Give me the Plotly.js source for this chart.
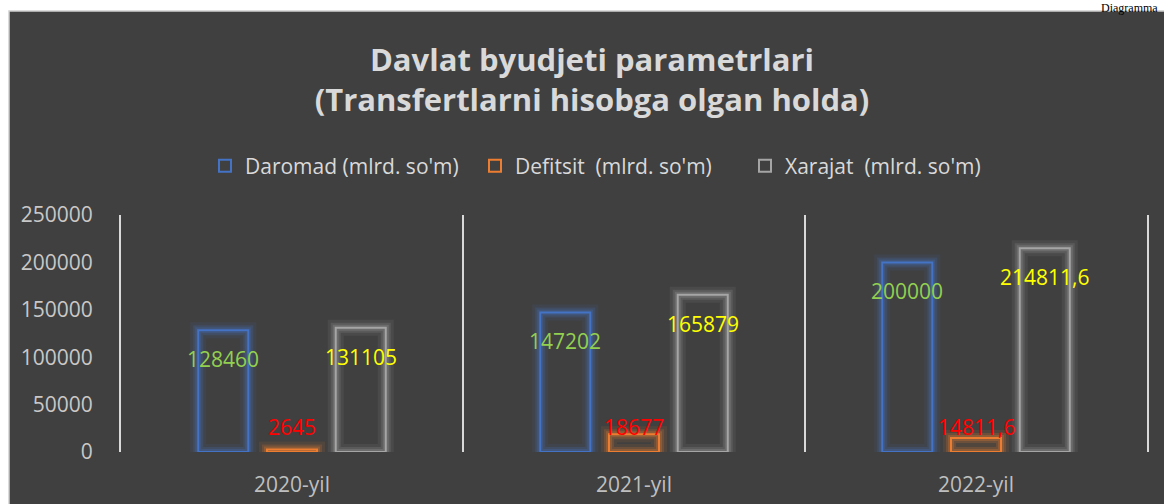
<!DOCTYPE html>
<html>
<head>
<meta charset="utf-8">
<script src="https://cdn.plot.ly/plotly-3.0.1.min.js"></script>
<style>
html,body{margin:0;padding:0;background:#ffffff;}
#chart{width:1164px;height:504px;}
</style>
</head>
<body>
<div id="chart"></div>
<script>
// ---- data ----
const categories = ['2020-yil', '2021-yil', '2022-yil'];
const daromad = [128460, 147202, 200000];
const defitsit = [2645, 18677, 14811.6];
const xarajat = [131105, 165879, 214811.6];
const seriesNames = ["Daromad (mlrd. so'm)", "Defitsit \u00a0(mlrd. so'm)", "Xarajat \u00a0(mlrd. so'm)"];
const yTicks = [0, 50000, 100000, 150000, 200000, 250000];
const chartTitle = 'Davlat byudjeti parametrlari<br>(Transfertlarni hisobga olgan holda)';
const cornerText = 'Diagramma';

// ---- layout constants ----
const W = 1164, H = 504;
const M = {l: 121, r: 17, t: 215, b: 52};
const plotW = W - M.l - M.r, plotH = H - M.t - M.b;
const BARGAP = 0.397, GROUPGAP = 0.272;
const slotPx = plotW / categories.length * (1 - BARGAP) / 3;
const px2x = p => (p - M.l) / plotW;
const px2y = p => (H - M.b - p) / plotH;

const lineColors = ['#4472C4', '#ED7D31', '#A5A5A5'];
const glowRGB = ['68,114,196', '237,125,49', '165,165,165'];
const labelColors = ['#92D050', '#FF0000', '#FFFF00'];
const values = [daromad, defitsit, xarajat];
const groups = ['a', 'b', 'c'];
const fmt = v => String(v).replace('.', ',');

const traces = [];
// glow layers
[[16, 0.10], [10, 0.18], [6, 0.25]].forEach(([w, a]) => {
  values.forEach((vals, i) => {
    traces.push({
      type: 'bar', x: categories, y: vals, offsetgroup: groups[i],
      marker: {color: 'rgba(0,0,0,0)', line: {color: 'rgba(' + glowRGB[i] + ',' + a + ')', width: w}},
      showlegend: false, hoverinfo: 'skip'
    });
  });
});
// main outlined bars
values.forEach((vals, i) => {
  traces.push({
    type: 'bar', name: seriesNames[i], x: categories, y: vals, offsetgroup: groups[i],
    marker: {color: 'rgba(0,0,0,0)', line: {color: lineColors[i], width: 2}}
  });
});

const annotations = [];
values.forEach((vals, i) => {
  vals.forEach((v, j) => {
    const isDef = i === 1;
    annotations.push({
      x: categories[j], y: isDef ? 0 : v, xref: 'x', yref: 'y',
      text: fmt(v), showarrow: false,
      xshift: (i - 1) * slotPx, yshift: isDef ? 25 : -29,
      yanchor: 'middle', xanchor: 'center',
      font: {family: 'Open Sans', size: 21, color: labelColors[i]}
    });
  });
});
annotations.push({
  xref: 'paper', yref: 'paper', x: px2x(1160), y: px2y(-1),
  xanchor: 'right', yanchor: 'top', showarrow: false,
  text: cornerText, font: {family: 'Liberation Serif', size: 12, color: '#000000'}
});

const layout = {
  width: W, height: H,
  margin: M,
  paper_bgcolor: '#ffffff',
  plot_bgcolor: 'rgba(0,0,0,0)',
  barmode: 'group', bargap: BARGAP, bargroupgap: GROUPGAP,
  font: {family: 'Open Sans', color: '#D9D9D9'},
  title: {
    text: chartTitle, xref: 'container', yref: 'container',
    x: 592 / W, y: 1 - 71 / H, xanchor: 'center', yanchor: 'middle',
    font: {family: 'Open Sans', size: 31, weight: 'bold', color: '#D9D9D9'}
  },
  legend: {
    orientation: 'h', x: px2x(205), y: px2y(166), xanchor: 'left', yanchor: 'middle',
    entrywidth: 225,
    font: {family: 'Open Sans', size: 21, color: '#D9D9D9'},
    bgcolor: 'rgba(0,0,0,0)'
  },
  xaxis: {
    type: 'category', range: [-0.5, 2.5], tickson: 'boundaries',
    showgrid: true, gridcolor: '#D9D9D9', gridwidth: 2,
    showline: false, zeroline: false, ticks: '',
    ticklabelstandoff: 18,
    tickfont: {family: 'Open Sans', size: 21, color: '#BFBFBF'}
  },
  yaxis: {
    range: [0, 250000], tickvals: yTicks, ticktext: yTicks.map(String),
    showgrid: false, zeroline: false,
    showline: true, mirror: true, linecolor: '#D9D9D9', linewidth: 2,
    ticks: '', ticklabelstandoff: 22,
    tickfont: {family: 'Open Sans', size: 21, color: '#C8C8C8'}
  },
  shapes: [{
    type: 'rect', xref: 'paper', yref: 'paper', layer: 'below',
    x0: px2x(9), x1: px2x(1180), y0: px2y(11), y1: px2y(520),
    fillcolor: '#404040', line: {color: '#D0D0D0', width: 1.5}
  }],
  annotations: annotations,
  hovermode: false
};

Plotly.newPlot('chart', traces, layout, {displayModeBar: false, staticPlot: true});
</script>
</body>
</html>
